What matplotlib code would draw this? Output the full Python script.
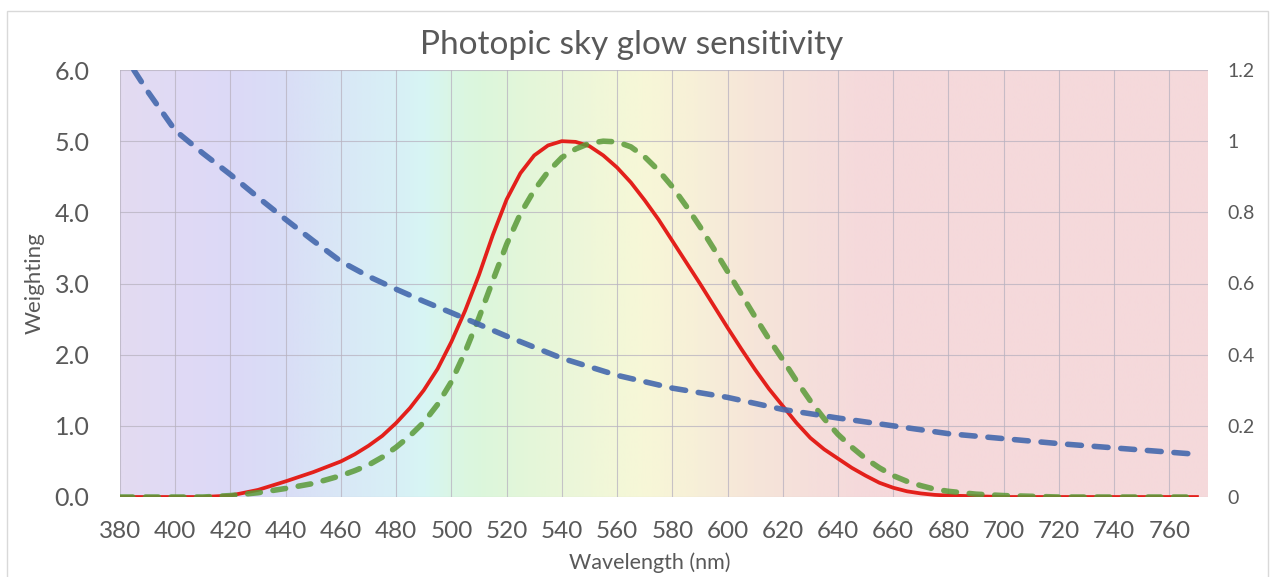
import numpy as np
import matplotlib
matplotlib.use("Agg")
import matplotlib.pyplot as plt
from matplotlib.colors import LinearSegmentedColormap, to_rgb
from matplotlib.patches import Rectangle

plt.rcParams['font.family'] = ['Lato', 'DejaVu Sans']

# sky glow weighting (dashed blue)
blue_nm = [385, 390, 400, 410, 420, 430, 440, 450, 460, 470, 480, 490, 500, 520, 540,
           560, 580, 600, 620, 640, 660, 680, 700, 720, 740, 760, 770]
blue_w = [6.0, 5.70, 5.15, 4.83, 4.53, 4.21, 3.90, 3.60, 3.31, 3.10, 2.92, 2.75, 2.59,
          2.26, 1.95, 1.71, 1.53, 1.40, 1.23, 1.11, 1.00, 0.89, 0.82, 0.75, 0.69, 0.63, 0.60]

# photopic curves: 10 nm in the tails, 5 nm across the peak
curve_nm = ([380, 390, 400, 410, 420, 430, 440, 450]
            + list(range(460, 685, 5))
            + [690, 700, 710, 720, 730, 740, 750, 760, 770])
red_w = [0, 0, 0, 0, 0.02, 0.10, 0.22, 0.35,
         0.50, 0.60, 0.72, 0.86, 1.04, 1.25, 1.50, 1.80, 2.18, 2.62,
         3.12, 3.68, 4.18, 4.55, 4.80, 4.94, 5.00, 4.99, 4.93, 4.80,
         4.63, 4.42, 4.17, 3.90, 3.60, 3.30, 3.00, 2.69, 2.38, 2.08,
         1.79, 1.52, 1.28, 1.04, 0.83, 0.67, 0.54, 0.41, 0.30, 0.20,
         0.13, 0.08, 0.05, 0.03, 0.02,
         0.01, 0, 0, 0, 0, 0, 0, 0, 0]
green_w = [0, 0, 0, 0, 0.02, 0.06, 0.12, 0.19,
           0.30, 0.37, 0.45, 0.56, 0.70, 0.86, 1.05, 1.30, 1.62, 2.04,
           2.52, 3.04, 3.55, 3.98, 4.31, 4.57, 4.77, 4.89, 4.97, 5.00,
           4.99, 4.92, 4.78, 4.59, 4.36, 4.09, 3.80, 3.49, 3.17, 2.85,
           2.53, 2.22, 1.93, 1.63, 1.35, 1.10, 0.88, 0.70, 0.54, 0.41,
           0.30, 0.22, 0.16, 0.11, 0.08,
           0.04, 0.02, 0.01, 0, 0, 0, 0, 0, 0]

x_ticks = list(range(380, 780, 20))
left_ticks = [0, 1, 2, 3, 4, 5, 6]
right_labels = ['0', '0.2', '0.4', '0.6', '0.8', '1', '1.2']

# pastel spectrum behind the plot
spec_nm = [380, 400, 420, 440, 460, 480, 490, 500, 510, 530, 550, 570, 590, 610, 630, 650, 774]
spec_col = ['#e3dbf1', '#e0daf5', '#dcd9f7', '#d9def6', '#d9e8f6', '#d8f0f6', '#d7f5f4',
            '#daf6e4', '#dcf7dc', '#e5f6d9', '#eff7d9', '#f7f7d7', '#f7efd8', '#f6e5d9',
            '#f5dfdb', '#f5d9db', '#f5d9db']

xmin, xmax = 380, 774
grey = '#595959'
W, H = 1273, 577

fig = plt.figure(figsize=(12.73, 5.77), dpi=100)
fig.patches.append(Rectangle((7 / W, -0.05), 1261 / W, 1.05 - 11 / H,
                             transform=fig.transFigure, fill=False,
                             edgecolor='#d9d9d9', linewidth=1.0))

ax = fig.add_axes([120 / W, 80 / H, 1088 / W, 427 / H])

pos = [(n - xmin) / (xmax - xmin) for n in spec_nm]
cmap = LinearSegmentedColormap.from_list('spec', list(zip(pos, [to_rgb(c) for c in spec_col])))
ax.imshow(np.linspace(0, 1, 800)[None, :], cmap=cmap, aspect='auto',
          extent=[xmin, xmax, 0, 6], zorder=0)

ax.plot(curve_nm, red_w, color='#e3201b', lw=2.7, zorder=3, solid_joinstyle='round')
ax.plot(curve_nm, green_w, color='#5a9a38', lw=4.0, alpha=0.85,
        dashes=(2.3, 2.3), dash_capstyle='round', zorder=4)
ax.plot(blue_nm, blue_w, color='#4468ad', lw=4.0, alpha=0.9,
        dashes=(2.5, 2.3), dash_capstyle='round', zorder=5)

ax.set_xlim(xmin, xmax)
ax.set_ylim(0, 6)
ax.set_xticks(x_ticks)
ax.set_yticks(left_ticks)
ax.set_yticklabels([f'{v:.1f}' for v in left_ticks])
ax.grid(True, color='#b8b2c0', lw=0.8, alpha=0.75, zorder=1)
ax.set_axisbelow(False)
for s in ax.spines.values():
    s.set_visible(False)
ax.tick_params(axis='x', length=0, colors=grey, labelsize=17.5, pad=17)
ax.tick_params(axis='y', length=0, colors=grey, labelsize=18, pad=22)

ax2 = ax.twinx()
ax2.set_ylim(0, 1.2)
ax2.set_yticks([i * 0.2 for i in range(7)])
ax2.set_yticklabels(right_labels)
for s in ax2.spines.values():
    s.set_visible(False)
ax2.tick_params(axis='y', length=0, colors=grey, labelsize=14, pad=14)

fig.text(632 / W, 1 - 45 / H, 'Photopic sky glow sensitivity', color=grey,
         fontsize=24, ha='center', va='center')
ax.set_xlabel('Wavelength (nm)', color=grey, fontsize=15.5)
ax.xaxis.set_label_coords((650 - 120) / 1088, -(563 - 497) / 427)
ax.xaxis.label.set_va('center')
ax.set_ylabel('Weighting', color=grey, fontsize=16)
ax.yaxis.set_label_coords(-(120 - 35) / 1088, (497 - 283) / 427)
ax.yaxis.label.set_va('center')

fig.savefig('out.png', dpi=100)
